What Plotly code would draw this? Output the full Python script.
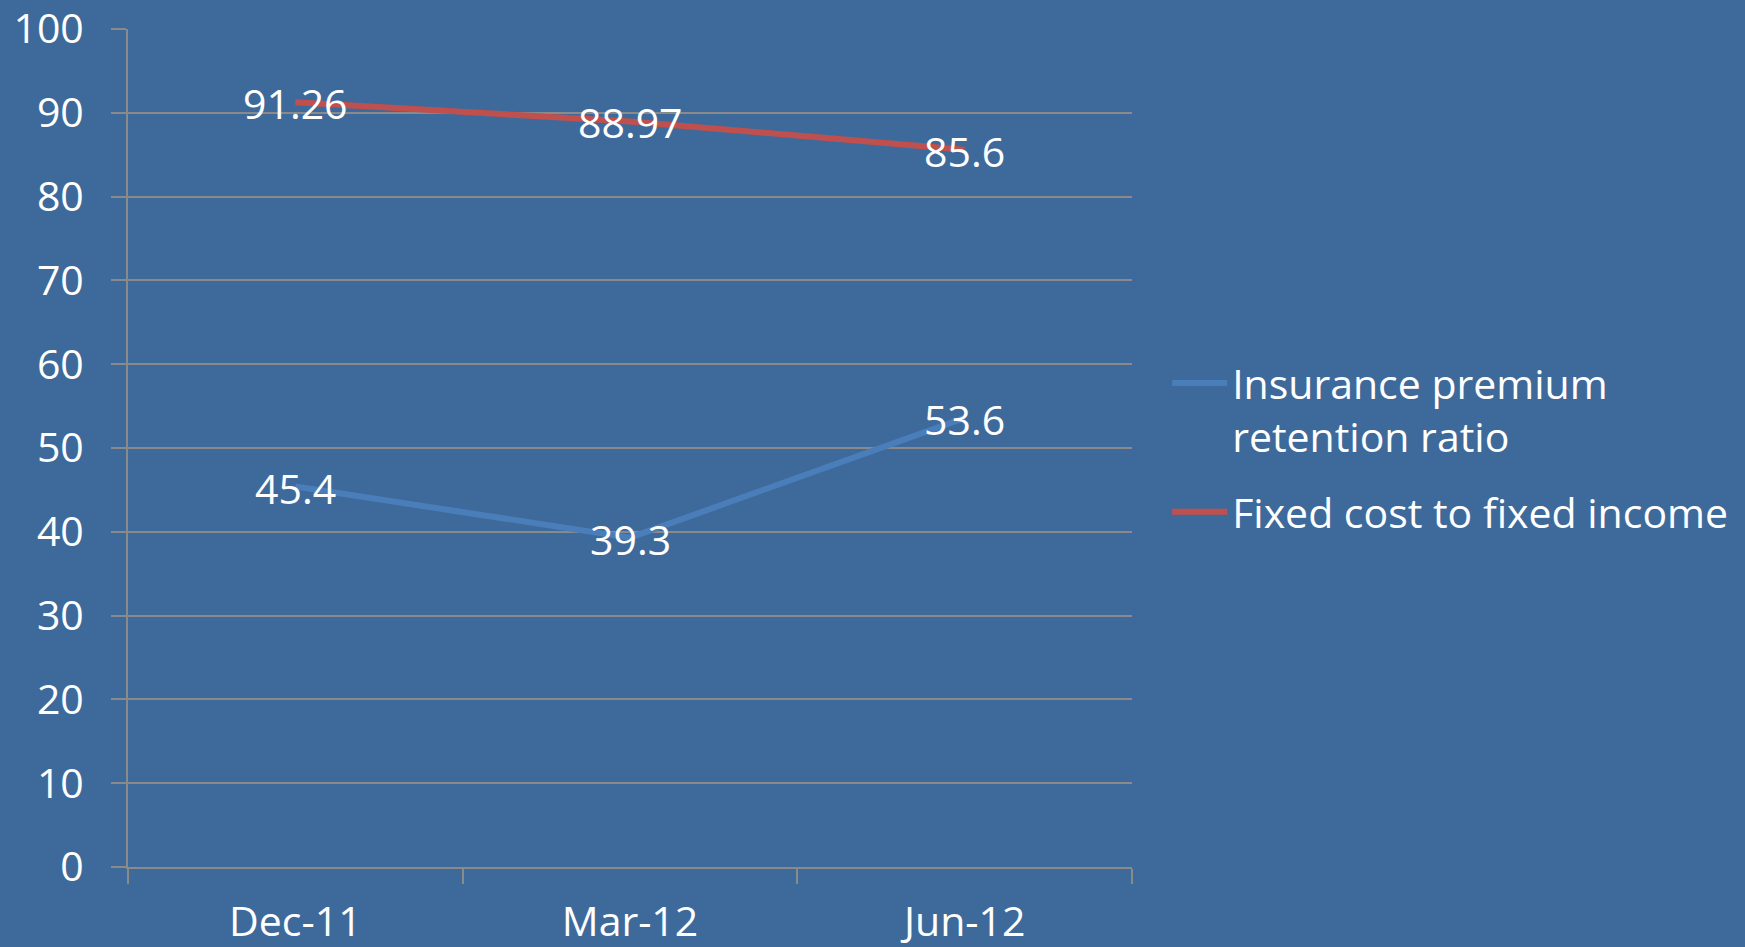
import plotly.graph_objects as go

# chart data
quarters = ["Dec-11", "Mar-12", "Jun-12"]
retention_ratio = [45.4, 39.3, 53.6]
fixed_cost_ratio = [91.26, 88.97, 85.6]
y_ticks = [0, 10, 20, 30, 40, 50, 60, 70, 80, 90, 100]

BG = "#3E6A9B"
GRID = "#8A8A8A"
FONT = "Open Sans"
FS = 41

series = [
    ("Insurance premium<br>retention ratio", retention_ratio, "#4A7EBB"),
    ("Fixed cost to fixed income", fixed_cost_ratio, "#C0504D"),
]

fig = go.Figure()
for i, (name, vals, color) in enumerate(series):
    fig.add_trace(go.Scatter(
        x=quarters, y=vals,
        mode="lines",
        name=name,
        legendgroup=str(i),
        line=dict(color=color, width=6),
    ))
    # data labels, centred on the points like the original
    for q, v in zip(quarters, vals):
        fig.add_annotation(
            x=q, y=v, text=str(v), showarrow=False,
            xanchor="center", yanchor="middle", yshift=-1,
            font=dict(color="white", size=FS, family=FONT),
        )

fig.update_layout(
    width=1745, height=947,
    paper_bgcolor=BG, plot_bgcolor=BG,
    margin=dict(l=128, r=609, t=29, b=80),
    font=dict(family=FONT, color="white", size=FS),
    hovermode=False,
    legend=dict(
        x=1.035, y=0.617, xanchor="left", yanchor="top",
        bgcolor="rgba(0,0,0,0)", valign="top",
        itemwidth=55, tracegroupgap=19,
        font=dict(size=FS, color="white", family=FONT),
    ),
)
fig.update_xaxes(
    type="category", range=[-0.5, 2.5], automargin=False,
    showgrid=False, showline=True, linecolor=GRID, linewidth=2,
    ticks="outside", tickson="boundaries", ticklen=15, tickcolor=GRID, tickwidth=2,
    ticklabelstandoff=18, ticklabeloverflow="allow",
    tickfont=dict(size=FS, color="white"),
)
fig.update_yaxes(
    range=[0, 100], tickvals=y_ticks, automargin=False,
    showgrid=True, gridcolor=GRID, gridwidth=2,
    showline=True, linecolor=GRID, linewidth=2, zeroline=False,
    ticks="outside", ticklen=15, tickcolor=GRID, tickwidth=2,
    ticklabelstandoff=19, ticklabeloverflow="allow",
    tickfont=dict(size=FS, color="white"),
)

fig.write_html("out.html", config={"displayModeBar": False},
               post_script="document.body.style.margin='0';")
